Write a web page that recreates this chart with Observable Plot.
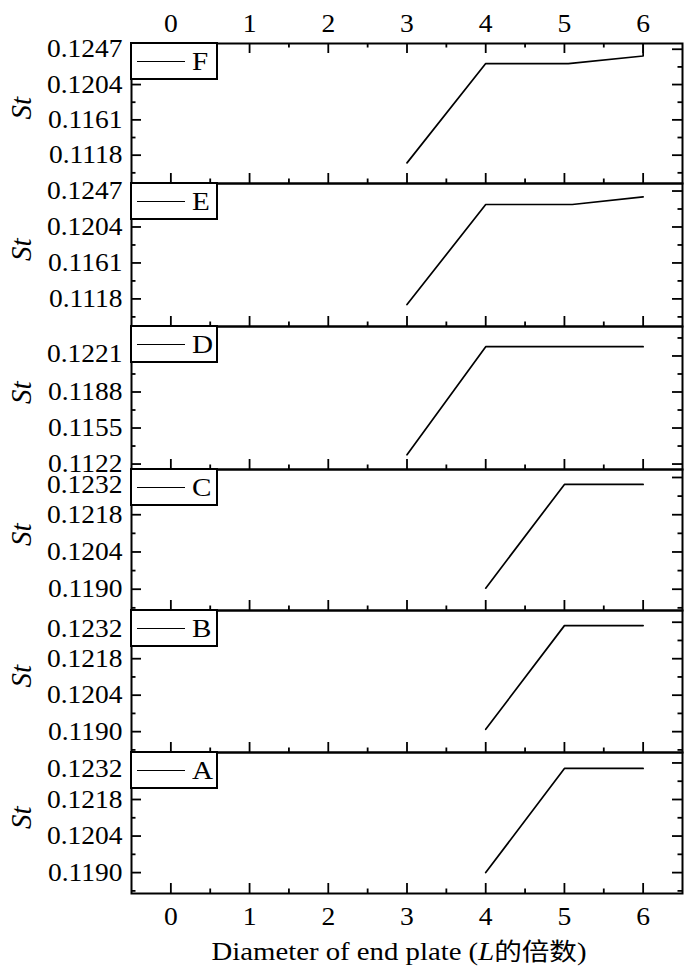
<!DOCTYPE html>
<html>
<head>
<meta charset="utf-8">
<script src="https://cdn.jsdelivr.net/npm/d3@7"></script>
<script src="https://cdn.jsdelivr.net/npm/@observablehq/plot@0.6"></script>
<style>
  body { margin: 0; background: #fff; }
  #fig { position: relative; width: 700px; height: 972px; font-family: "Liberation Serif", "Times New Roman", serif; color: #000; }
  #fig svg { display: block; overflow: visible; background: transparent; }
  .leg { position: absolute; left: 130px; width: 88px; height: 38px; box-sizing: border-box; border: 2px solid #000; background: #fff; }
  .leg .ln { position: absolute; left: 5px; top: 17px; width: 48px; height: 0; border-top: 1.7px solid #000; }
  .leg .lt { position: absolute; left: 60px; top: 4px; font-size: 26px; line-height: 27px; display: inline-block; transform: scaleX(1.12); transform-origin: left center; }
  .title { position: absolute; left: 0; top: 935px; width: 700px; text-align: center; font-size: 25px; line-height: 30px; }
  .title > span { display: inline-block; transform: scaleX(1.15); margin-left: 98px; }
  .cjk { font-family: "Noto Sans CJK SC", sans-serif; font-size: 24px; }
</style>
</head>
<body>
<div id="fig"></div>
<script>
// ---- data ----
const panelNames = ["F", "E", "D", "C", "B", "A"];
const xTicks = [0, 1, 2, 3, 4, 5, 6];
const xMinor = [0.5, 1.5, 2.5, 3.5, 4.5, 5.5];

const xF = [3, 4, 5.05, 6, 6];
const stF = [0.11086, 0.12296, 0.12296, 0.12388, 0.1254];
const xE = [3, 4, 5.1, 6];
const stE = [0.11112, 0.12309, 0.12309, 0.12400];
const xD = [3, 4, 5, 6];
const stD = [0.11305, 0.12295, 0.12295, 0.12295];
const xC = [4, 5, 6];
const stC = [0.11904, 0.12294, 0.12294];
const xB = [4, 5, 6];
const stB = [0.11909, 0.12307, 0.12307];
const xA = [4, 5, 6];
const stA = [0.11900, 0.12299, 0.12299];

const ticksFE = [0.1118, 0.1161, 0.1204, 0.1247];
const minorFE = [0.10965, 0.11395, 0.11825, 0.12255];
const ticksD = [0.1122, 0.1155, 0.1188, 0.1221];
const minorD = [0.11385, 0.11715, 0.12045, 0.12375];
const ticksCBA = [0.1190, 0.1204, 0.1218, 0.1232];
const minorCBA = [0.1183, 0.1197, 0.1211, 0.1225];

const domainF = [0.10835, 0.1254];
const domainE = [0.1085, 0.1256];
const domainD = [0.1117, 0.1248];
const domainC = [0.1182, 0.1235];
const domainB = [0.1182, 0.12365];
const domainA = [0.1182, 0.1236];

// ---- layout ----
const W = 700, ML = 131, MR = 18;
const panels = [
  {name: "F", xs: xF, ys: stF, domain: domainF, majors: ticksFE, minors: minorFE, height: 183, mt: 43, mb: 0, top: true, topDy: 0},
  {name: "E", xs: xE, ys: stE, domain: domainE, majors: ticksFE, minors: minorFE, height: 143, mt: 0, mb: 0, topDy: 0},
  {name: "D", xs: xD, ys: stD, domain: domainD, majors: ticksD, minors: minorD, height: 143, mt: 0, mb: 0, topDy: -2},
  {name: "C", xs: xC, ys: stC, domain: domainC, majors: ticksCBA, minors: minorCBA, height: 141, mt: 0, mb: 0, topDy: 8},
  {name: "B", xs: xB, ys: stB, domain: domainB, majors: ticksCBA, minors: minorCBA, height: 142, mt: 0, mb: 0, topDy: 7},
  {name: "A", xs: xA, ys: stA, domain: domainA, majors: ticksCBA, minors: minorCBA, height: 183, mt: 0, mb: 42, bottom: true, topDy: 6}
];

const fig = document.getElementById("fig");
const K = "#000";
let yOff = 0;
const legendTops = [];

for (const p of panels) {
  const pw = W - ML - MR;
  const ph = p.height - p.mt - p.mb;
  const LM = 10, LN = 4.5, SW = 1.8;
  const lower = p.majors.slice(0, p.majors.length - 1);
  const upper = p.majors.slice(p.majors.length - 1);
  const marks = [
    Plot.tickX(xTicks, {x: d => d, insetTop: ph - LM, stroke: K, strokeWidth: SW}),
    Plot.tickX(xMinor, {x: d => d, insetTop: ph - LN, stroke: K, strokeWidth: SW}),
    Plot.tickY(p.majors, {y: d => d, insetRight: pw - LM, stroke: K, strokeWidth: SW}),
    Plot.tickY(p.minors, {y: d => d, insetRight: pw - LN, stroke: K, strokeWidth: SW}),
    Plot.tickY(p.majors, {y: d => d, insetLeft: pw - LM, stroke: K, strokeWidth: SW}),
    Plot.tickY(p.minors, {y: d => d, insetLeft: pw - LN, stroke: K, strokeWidth: SW}),
    Plot.axisY(lower, {tickSize: 0, tickPadding: 9, tickFormat: d => d.toFixed(4), fontSize: 25, label: null}),
    Plot.axisY(upper, {tickSize: 0, tickPadding: 9, tickFormat: d => d.toFixed(4), fontSize: 25, label: null, dy: p.topDy}),
    Plot.text(["St"], {text: d => d, frameAnchor: "left", dx: -110, dy: 6, rotate: -90, fontStyle: "italic", fontSize: 29}),
    Plot.line(p.xs, {x: p.xs, y: p.ys, stroke: K, strokeWidth: 1.7, clip: true}),
    Plot.frame({stroke: K, strokeWidth: 2})
  ];
  if (p.top) {
    marks.push(
      Plot.tickX(xTicks, {x: d => d, insetBottom: ph - LM, stroke: K, strokeWidth: SW}),
      Plot.tickX(xMinor, {x: d => d, insetBottom: ph - LN, stroke: K, strokeWidth: SW}),
      Plot.axisX(xTicks, {anchor: "top", tickSize: 0, tickPadding: 12, fontSize: 25, label: null})
    );
  }
  if (p.bottom) {
    marks.push(Plot.axisX(xTicks, {anchor: "bottom", tickSize: 0, tickPadding: 14, fontSize: 25, label: null}));
  }
  const chart = Plot.plot({
    width: W,
    height: p.height,
    marginLeft: ML,
    marginRight: MR,
    marginTop: p.mt,
    marginBottom: p.mb,
    style: {fontFamily: "'Liberation Serif', 'Times New Roman', serif", color: "#000", background: "transparent", overflow: "visible"},
    x: {domain: [-0.5, 6.5], axis: (p.top || p.bottom) ? undefined : null},
    y: {domain: p.domain},
    marks
  });
  fig.appendChild(chart);
  legendTops.push(yOff + p.mt);
  yOff += p.height;
}

// legends (inside each panel's top-left corner)
panels.forEach((p, i) => {
  const d = document.createElement("div");
  d.className = "leg";
  d.style.top = (legendTops[i] - 1) + "px";
  d.innerHTML = `<div class="ln"></div><span class="lt">${p.name}</span>`;
  fig.appendChild(d);
});

// x-axis title
const t = document.createElement("div");
t.className = "title";
t.innerHTML = `<span>Diameter of end plate (<i>L</i><span class="cjk">的倍数</span>)</span>`;
fig.appendChild(t);

// horizontally widen tick labels to match the reference's letterforms
fig.querySelectorAll("svg text").forEach(el => {
  const tr = el.getAttribute("transform") || "";
  if (tr.includes("rotate")) return;
  const len = el.getComputedTextLength();
  if (len > 0) {
    el.setAttribute("textLength", (len * 1.1).toFixed(1));
    el.setAttribute("lengthAdjust", "spacingAndGlyphs");
  }
});
</script>
</body>
</html>
